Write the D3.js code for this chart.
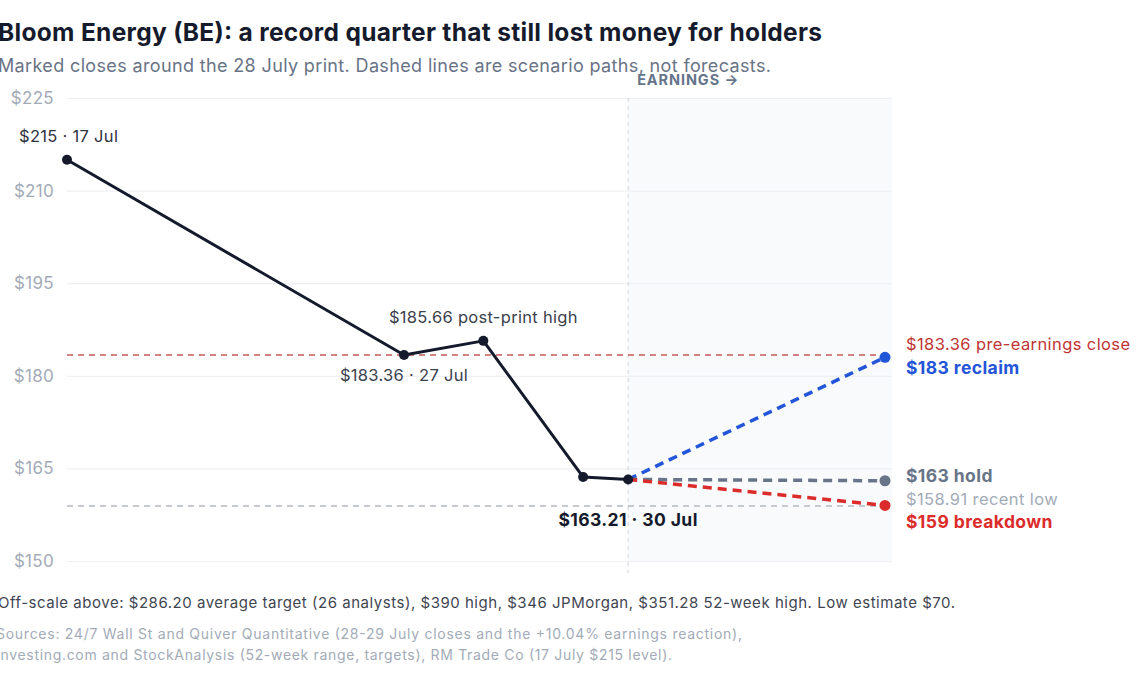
<!DOCTYPE html>
<html>
<head>
<meta charset="utf-8">
<script src="https://cdn.jsdelivr.net/npm/d3@7"></script>
<style>
  html, body { margin: 0; padding: 0; background: #fff; }
  svg { display: block; font-family: Inter, "Noto Sans", sans-serif; }
</style>
</head>
<body>
<svg id="chart" width="1140" height="694"></svg>
<script>
// closes around the 28 July print (pos = horizontal position, 0..100)
const dates = ['17 Jul', '27 Jul', '28 Jul', '29 Jul', '30 Jul']
const closes = [215, 183.36, 185.66, 163.6, 163.21]
const positions = [0, 41.2, 50.9, 63.1, 68.6]

// scenario paths from the 30 Jul close
const scenarioNames = ['reclaim', 'hold', 'breakdown']
const scenarioValues = [183, 163, 159]
const scenarioColors = ['#2355d8', '#687487', '#dc2b2b']

const yTicks = [150, 165, 180, 195, 210, 225]
const preEarningsClose = 183.36
const recentLow = 158.91

const svg = d3.select('#chart')

const x = d3.scaleLinear().domain([0, 100]).range([67, 885])
const y = d3.scaleLinear().domain([150, 225]).range([561, 98])

const last = positions.length - 1
const earningsX = x(positions[last])
const plotRight = x(100) + 7

// shaded "after earnings" area
svg.append('rect')
    .attr('x', earningsX)
    .attr('y', y(225))
    .attr('width', plotRight - earningsX)
    .attr('height', y(150) - y(225))
    .attr('fill', '#f8fafc')

// gridlines + y labels
const yAxis = d3.axisLeft(y)
    .tickValues(yTicks)
    .tickSize(-(plotRight - x(0)))
    .tickPadding(13)
    .tickFormat(d => '$' + d)

svg.append('g')
    .attr('transform', `translate(${x(0)},0)`)
    .call(yAxis)
    .call(g => g.select('.domain').remove())
    .call(g => g.selectAll('.tick line').attr('stroke', '#eef0f3').attr('stroke-width', 1.2))
    .call(g => g.selectAll('.tick text')
        .attr('fill', '#a3abb8')
        .attr('font-size', 17)
        .attr('letter-spacing', 0.3)
        .attr('font-family', 'Inter, sans-serif'))

// earnings divider
svg.append('line')
    .attr('x1', earningsX).attr('x2', earningsX)
    .attr('y1', y(225)).attr('y2', y(150) + 12)
    .attr('stroke', '#cfd3d9')
    .attr('stroke-width', 1)
    .attr('stroke-dasharray', '4,4')

svg.append('text')
    .attr('x', earningsX + 9)
    .attr('y', 85)
    .attr('fill', '#66748a')
    .attr('font-size', 14.5)
    .attr('font-weight', 700)
    .attr('letter-spacing', 0.9)
    .text('EARNINGS →')

// reference lines
svg.append('line')
    .attr('x1', x(0)).attr('x2', plotRight)
    .attr('y1', y(preEarningsClose)).attr('y2', y(preEarningsClose))
    .attr('stroke', '#c85a5a')
    .attr('stroke-width', 1.5)
    .attr('stroke-dasharray', '6,5')

svg.append('line')
    .attr('x1', x(0)).attr('x2', plotRight)
    .attr('y1', y(recentLow)).attr('y2', y(recentLow))
    .attr('stroke', '#b4b9c1')
    .attr('stroke-width', 1.5)
    .attr('stroke-dasharray', '6,5')

// scenario paths
const scenarios = scenarioNames.map((name, i) => ({ name, value: scenarioValues[i], color: scenarioColors[i] }))

svg.append('g')
    .selectAll('line')
    .data(scenarios)
    .enter()
    .append('line')
    .attr('x1', earningsX)
    .attr('y1', y(closes[last]))
    .attr('x2', x(100))
    .attr('y2', d => y(d.value))
    .attr('stroke', d => d.color)
    .attr('stroke-width', 3.5)
    .attr('stroke-dasharray', '9,6')

svg.append('g')
    .selectAll('circle')
    .data(scenarios)
    .enter()
    .append('circle')
    .attr('cx', x(100))
    .attr('cy', d => y(d.value))
    .attr('r', 5.5)
    .attr('fill', d => d.color)

// price line
const points = dates.map((d, i) => ({ date: d, close: closes[i], pos: positions[i] }))

svg.append('path')
    .datum(points)
    .attr('fill', 'none')
    .attr('stroke', '#141a2b')
    .attr('stroke-width', 3)
    .attr('stroke-linejoin', 'round')
    .attr('d', d3.line().x(d => x(d.pos)).y(d => y(d.close)))

svg.append('g')
    .selectAll('circle')
    .data(points)
    .enter()
    .append('circle')
    .attr('cx', d => x(d.pos))
    .attr('cy', d => y(d.close))
    .attr('r', 5)
    .attr('fill', '#141a2b')

// point annotations
const fmt = v => '$' + (Number.isInteger(v) ? v : v.toFixed(2))

svg.append('text')
    .attr('x', x(positions[0]) - 48)
    .attr('y', y(closes[0]) - 18)
    .attr('fill', '#2f3440')
    .attr('font-size', 16.5)
    .attr('letter-spacing', 0.3)
    .text(`${fmt(closes[0])} · ${dates[0]}`)

svg.append('text')
    .attr('x', x(positions[2]))
    .attr('y', y(closes[2]) - 18)
    .attr('text-anchor', 'middle')
    .attr('fill', '#3b414d')
    .attr('font-size', 16.5)
    .attr('letter-spacing', 0.3)
    .text(`${fmt(closes[2])} post-print high`)

svg.append('text')
    .attr('x', x(positions[1]))
    .attr('y', y(closes[1]) + 26)
    .attr('text-anchor', 'middle')
    .attr('fill', '#3b414d')
    .attr('font-size', 16.5)
    .attr('letter-spacing', 0.3)
    .text(`${fmt(closes[1])} · ${dates[1]}`)

svg.append('text')
    .attr('x', x(positions[last]))
    .attr('y', y(closes[last]) + 47)
    .attr('text-anchor', 'middle')
    .attr('fill', '#141a2b')
    .attr('font-size', 17.5)
    .attr('font-weight', 700)
    .attr('letter-spacing', 0.4)
    .text(`${fmt(closes[last])} · ${dates[last]}`)

// right-side labels
const labelX = plotRight + 14
const rightLabels = [
    { text: `${fmt(preEarningsClose)} pre-earnings close`, v: preEarningsClose, dy: -5, color: '#bf3434', weight: 400 },
    { text: `$${scenarioValues[0]} ${scenarioNames[0]}`, v: scenarioValues[0], dy: 17, color: scenarios[0].color, weight: 700 },
    { text: `$${scenarioValues[1]} ${scenarioNames[1]}`, v: scenarioValues[1], dy: 1, color: scenarios[1].color, weight: 700 },
    { text: `${fmt(recentLow)} recent low`, v: recentLow, dy: -1, color: '#a3abb8', weight: 400 },
    { text: `$${scenarioValues[2]} ${scenarioNames[2]}`, v: scenarioValues[2], dy: 23, color: scenarios[2].color, weight: 700 }
]

svg.append('g')
    .selectAll('text')
    .data(rightLabels)
    .enter()
    .append('text')
    .attr('x', labelX)
    .attr('y', d => y(d.v) + d.dy)
    .attr('fill', d => d.color)
    .attr('font-size', d => d.weight === 700 ? 17.5 : 16.5)
    .attr('font-weight', d => d.weight)
    .attr('letter-spacing', 0.4)
    .text(d => d.text)

// titles
svg.append('text')
    .attr('x', -2)
    .attr('y', 41)
    .attr('fill', '#151b2c')
    .attr('font-size', 24.5)
    .attr('font-weight', 700)
    .attr('textLength', 824)
    .attr('lengthAdjust', 'spacing')
    .text('Bloom Energy (BE): a record quarter that still lost money for holders')

svg.append('text')
    .attr('x', -2)
    .attr('y', 72)
    .attr('fill', '#697386')
    .attr('font-size', 18)
    .attr('textLength', 773)
    .attr('lengthAdjust', 'spacing')
    .text('Marked closes around the 28 July print. Dashed lines are scenario paths, not forecasts.')

// footer
svg.append('text')
    .attr('x', -2)
    .attr('y', 608)
    .attr('fill', '#3f4652')
    .attr('font-size', 15)
    .attr('textLength', 957)
    .attr('lengthAdjust', 'spacing')
    .text('Off-scale above: $286.20 average target (26 analysts), $390 high, $346 JPMorgan, $351.28 52-week high. Low estimate $70.')

const sources = [
    'Sources: 24/7 Wall St and Quiver Quantitative (28-29 July closes and the +10.04% earnings reaction),',
    'Investing.com and StockAnalysis (52-week range, targets), RM Trade Co (17 July $215 level).'
]
const sourceWidths = [746, 676]

svg.append('g')
    .selectAll('text')
    .data(sources)
    .enter()
    .append('text')
    .attr('x', -4)
    .attr('y', (d, i) => 639 + i * 21)
    .attr('fill', '#a3abb8')
    .attr('font-size', 14)
    .attr('textLength', (d, i) => sourceWidths[i])
    .attr('lengthAdjust', 'spacing')
    .text(d => d)
</script>
</body>
</html>
